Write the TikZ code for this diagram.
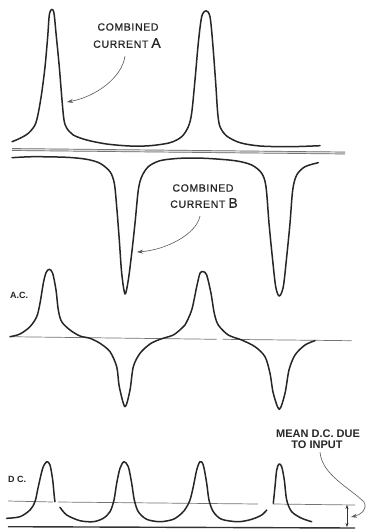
\documentclass[tikz,border=0pt]{standalone}
\usepackage{fontspec}
\setmainfont{Liberation Sans}
\newfontfamily\handfont[LetterSpace=6, FakeBold=0.6]{Liberation Sans}
\usetikzlibrary{arrows.meta}
\tikzset{
  wave/.style={line width=1.5pt, draw=black!85, line join=round, line cap=round},
  axisline/.style={line width=0.7pt, draw=black!55},
  baseline/.style={line width=1.4pt, draw=black!80},
  sepline/.style={line width=0.7pt, draw=black!60, double=black!15, double distance=1.3pt},
  pointer/.style={line width=0.6pt, draw=black!65, -{Stealth[length=6pt,width=4pt]}},
  dimarrow/.style={line width=0.6pt, draw=black!80, {Stealth[length=4pt,width=3pt]}-{Stealth[length=4pt,width=3pt]}},
  lbl/.style={inner sep=0pt, text=black!85, font=\handfont\fontsize{10.5}{12}\selectfont},
  smalllbl/.style={inner sep=0pt, text=black!85, font=\bfseries\fontsize{9}{10}\selectfont, anchor=west},
  meanlbl/.style={inner sep=0pt, text=black!85, font=\bfseries\fontsize{11}{12}\selectfont}
}
\begin{document}
\begin{tikzpicture}[x=1pt, y=-1pt]
\useasboundingbox[fill=white] (0,0) rectangle (370,531);

% ---------- combined current A ----------
\draw[wave] plot[smooth, tension=0.5] coordinates {
 (12,141.7) (20,138.3) (28.3,133.3) (35,125) (38.3,113) (41.7,93) (45,67)
 (47.7,36.7) (49.3,15) (51.7,9.3) (54,13.3) (56,33) (59.3,67) (62,100) (64,120)
 (66.7,128) (73.3,135) (86.7,140) (106.7,144) (130,146) (150,145.7) (170,142.7)
 (181.7,136.7) (188.3,126.7) (191.7,113) (195,80) (198.3,43) (201.7,16.7)
 (206,10.7) (210,16.7) (212.7,43) (215.7,83) (217.7,113) (220,126.7)
 (226.7,136) (240,142.7) (260,146) (290,146.7) (320,145.7)};

% separating line
\draw[sepline] (12,149.5) -- (345,153);

% ---------- combined current B ----------
\draw[wave] plot[smooth, tension=0.5] coordinates {
 (12,157.7) (33.3,156.7) (66.7,157.3) (86.7,159.3) (100,163.3) (110,171.7)
 (114.3,183.3) (116.7,206.7) (119.3,240) (121.7,273.3) (125,294) (128.3,280)
 (131.7,253.3) (135,223.3) (138.3,190) (141.7,176.7) (148.3,166.7) (160,160.7)
 (180,158.3) (205,158.3) (235,160.7) (251.7,165) (261.7,173.3) (266,186.7)
 (269,223.3) (272.3,256.7) (275.7,286.7) (279.3,296) (283.3,286.7)
 (286.7,256.7) (290,223.3) (292.7,190) (296.7,175) (305,166.7) (318.3,162.7)};

% ---------- A.C. ----------
\draw[axisline] (10,336.7) -- (216.7,339.3);
\draw[axisline] (222.7,339.3) -- (351.7,340.7);
\draw[wave] plot[smooth, tension=0.5] coordinates {
 (10,336.7) (20,334) (30,326.7) (36.7,316.7) (40,303.3) (43.3,283.3) (46,272.7)
 (49.3,269.3) (52.7,273.3) (56,290) (58.3,310) (61.7,321.7) (70,330) (80,336)
 (90,338.3) (100,343.3) (110,351.7) (116.7,366.7) (119.3,386.7) (125,406.7)
 (130,390) (133.3,366.7) (140,353.3) (150,344) (160,339.3) (173.3,335)
 (181.7,328.3) (185,325) (191.7,310) (196.7,286.7) (200,273.3) (203.3,271.7)
 (206.7,275) (211,293.3) (214.3,313.3) (218.3,325) (228.3,335) (241.7,340)
 (255,346.7) (265,356.7) (270,373.3) (273.3,393.3) (279.3,409.3) (285,393.3)
 (289,370) (295,355) (305,345) (315,340.7)};

% ---------- D.C. ----------
\draw[axisline] (8,501) -- (53,502);
\draw[axisline] (58,502) -- (258,504);
\draw[axisline] (273,504) -- (355,505);
\draw[baseline] (8,526.7) -- (355,528);
\draw[wave] plot[smooth, tension=0.5] coordinates {
 (6.7,518.3) (20,516.7) (30,510) (35,501.7) (38.3,486.7) (42.7,468.3)
 (46.7,461.7) (50,465) (52.7,480) (54.3,496.7) (55,501.7)};
\draw[wave] plot[smooth, tension=0.5] coordinates {
 (60,507.3) (66.7,515) (80,520.7) (93.3,521.7) (103.3,518.3) (110,511.7)
 (114,500) (116.7,483.3) (120,468.3) (124,461.7) (128.3,466.7) (131.7,483.3)
 (134.3,500) (138.3,511.7) (146.7,519.3) (160,521.7) (173.3,519.3)
 (181.7,513.3) (186,508) (190,500) (193.3,486.7) (196.7,470) (200,461.7)
 (203.3,465) (206.7,483.3) (209,500) (213.3,511.7) (221.7,519.3) (238.3,521.7)
 (251.7,519.3) (261.7,515) (266.7,510)};
\draw[wave] plot[smooth, tension=0.5] coordinates {
 (273.3,503.3) (275,486.7) (276.7,470) (279,464) (281.7,466.7) (284.3,480)
 (286.7,500) (291.7,511.7) (301.7,518.3) (311.7,521.7)};

% ---------- labels ----------
\node[lbl] (labA1) at (128,27) {COMBINED};
\node[lbl] (labA2) at (127,43) {CURRENT\hspace{3pt}{\fontsize{14}{14}\selectfont A}};
\node[lbl] (labB1) at (203,188) {COMBINED};
\node[lbl] (labB2) at (204,203) {CURRENT\hspace{3pt}{\fontsize{14}{14}\selectfont B}};
\node[smalllbl] (labAC) at (10,295) {A.C.};
\node[smalllbl] (labDC) at (8,479) {D C.};
\node[meanlbl] (labM1) at (318,434) {MEAN D.C. DUE};
\node[meanlbl] (labM2) at (317,445) {TO INPUT};

% ---------- pointers ----------
\coordinate (tipA) at (67,102);
\coordinate (tipB) at (137,252);
\coordinate (tipM) at (351,517);
\coordinate (dimT) at (347,505);
\coordinate (dimB) at (347,527);

\draw[pointer] ([xshift=-2pt,yshift=-8pt]labA2.south) .. controls (122,78) and (95,97) .. (tipA);
\draw[pointer] ([xshift=-4pt,yshift=-8pt]labB2.south) .. controls (196,235) and (165,250) .. (tipB);
\draw[pointer] ([xshift=3pt,yshift=-3pt]labM2.south) .. controls (322,475) and (350,488) .. (364,502)
   .. controls (368,510) and (360,515) .. (tipM);
\draw[dimarrow] (dimT) -- (dimB);
\end{tikzpicture}
\end{document}
